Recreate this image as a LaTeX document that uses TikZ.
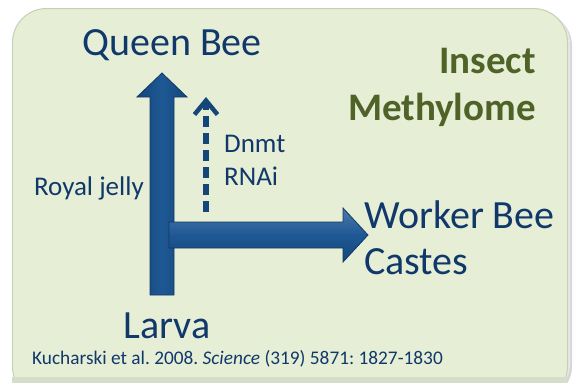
\documentclass[tikz,border=0pt]{standalone}
\usepackage{fontspec}
\setmainfont{Carlito}
\frenchspacing
\usetikzlibrary{arrows.meta,calc}
\definecolor{navy}{HTML}{11386A}
\definecolor{arrowdark}{HTML}{15467A}
\definecolor{arrowmid}{HTML}{1E5894}
\definecolor{arrowedge}{HTML}{103A64}
\definecolor{olive}{HTML}{4F6228}
\definecolor{boxfill}{HTML}{E6EFD6}
\definecolor{boxedge}{HTML}{C5D0B5}
\begin{document}
\begin{tikzpicture}[x=1pt,y=-1pt,
  big/.style={font=\fontsize{40}{44}\selectfont, text=navy, inner sep=0pt, anchor=base},
  mid/.style={font=\fontsize{27}{30}\selectfont, text=navy, inner sep=0pt, anchor=base west},
  title/.style={font=\fontsize{39}{42}\selectfont\bfseries, text=olive, inner sep=0pt, anchor=base east},
  blockarrow/.style={draw=arrowedge, line width=0.8pt, line join=miter},
  dasharrow/.style={draw=arrowdark, line width=5.5pt, dash pattern=on 11pt off 6pt,
    -{Straight Barb[length=14pt,width=23pt,line width=4.5pt]}}]
\useasboundingbox (0,0) rectangle (574,383);
\fill[white] (0,0) rectangle (574,383);
% background panel
\begin{scope}
\clip (0,0) rectangle (574,383);
\fill[black!16] (16,12) [rounded corners=34pt] rectangle (572,400);
\fill[black!9] (14,10) [rounded corners=34pt] rectangle (570,398);
\node[draw=boxedge, fill=boxfill, line width=1pt, rounded corners=34pt,
  minimum width=555pt, minimum height=392pt, anchor=north west, inner sep=0pt] (panel) at (12,8) {};
\fill[boxedge!70] (12,377) rectangle (567,383);
\end{scope}
% named points
\coordinate (vbase) at (162,295);
\coordinate (vtip) at (162,73);
\coordinate (hbase) at (169,235);
\coordinate (htip) at (368,235);
% vertical block arrow
\draw[blockarrow, left color=arrowdark, right color=arrowdark, middle color=arrowmid]
  ($(vbase)+(-12,0)$) -- ($(vtip)+(-12,24)$) -- ($(vtip)+(-25,24)$) -- (vtip)
  -- ($(vtip)+(25,24)$) -- ($(vtip)+(12,24)$) -- ($(vbase)+(12,0)$) -- cycle;
% horizontal block arrow
\draw[blockarrow, top color=arrowmid!80!white, bottom color=arrowdark, middle color=arrowmid]
  ($(hbase)+(0,-13)$) -- ($(htip)+(-25,-13)$) -- ($(htip)+(-25,-27)$) -- (htip)
  -- ($(htip)+(-25,27)$) -- ($(htip)+(-25,13)$) -- ($(hbase)+(0,13)$) -- cycle;
% labels
\node[big] (queen) at (172,55) {Queen Bee};
\node[big] (larva) at (167,338) {Larva};
\node[big, anchor=base west] (worker) at (364,228) {Worker Bee};
\node[big, anchor=base west] (castes) at (364,274) {Castes};
\node[title] (insect) at (536,73) {Insect};
\node[title] (methyl) at (536,120) {Methylome};
\node[mid] (dnmt) at (224,152) {Dnmt};
\node[mid] (rnai) at (224,185) {RNAi};
\node[mid, anchor=base east] (royal) at (144,195) {Royal jelly};
\node[font=\fontsize{19.3}{22}\selectfont, text=navy, inner sep=0pt, anchor=base west] (cite) at (32,364)
  {Kucharski et al. 2008. \textit{Science} (319) 5871: 1827-1830};
% dashed arrow
\coordinate (dstart) at (206,212);
\coordinate (dend) at (206,97);
\draw[dasharrow] (dstart) -- (dend);
\end{tikzpicture}
\end{document}
